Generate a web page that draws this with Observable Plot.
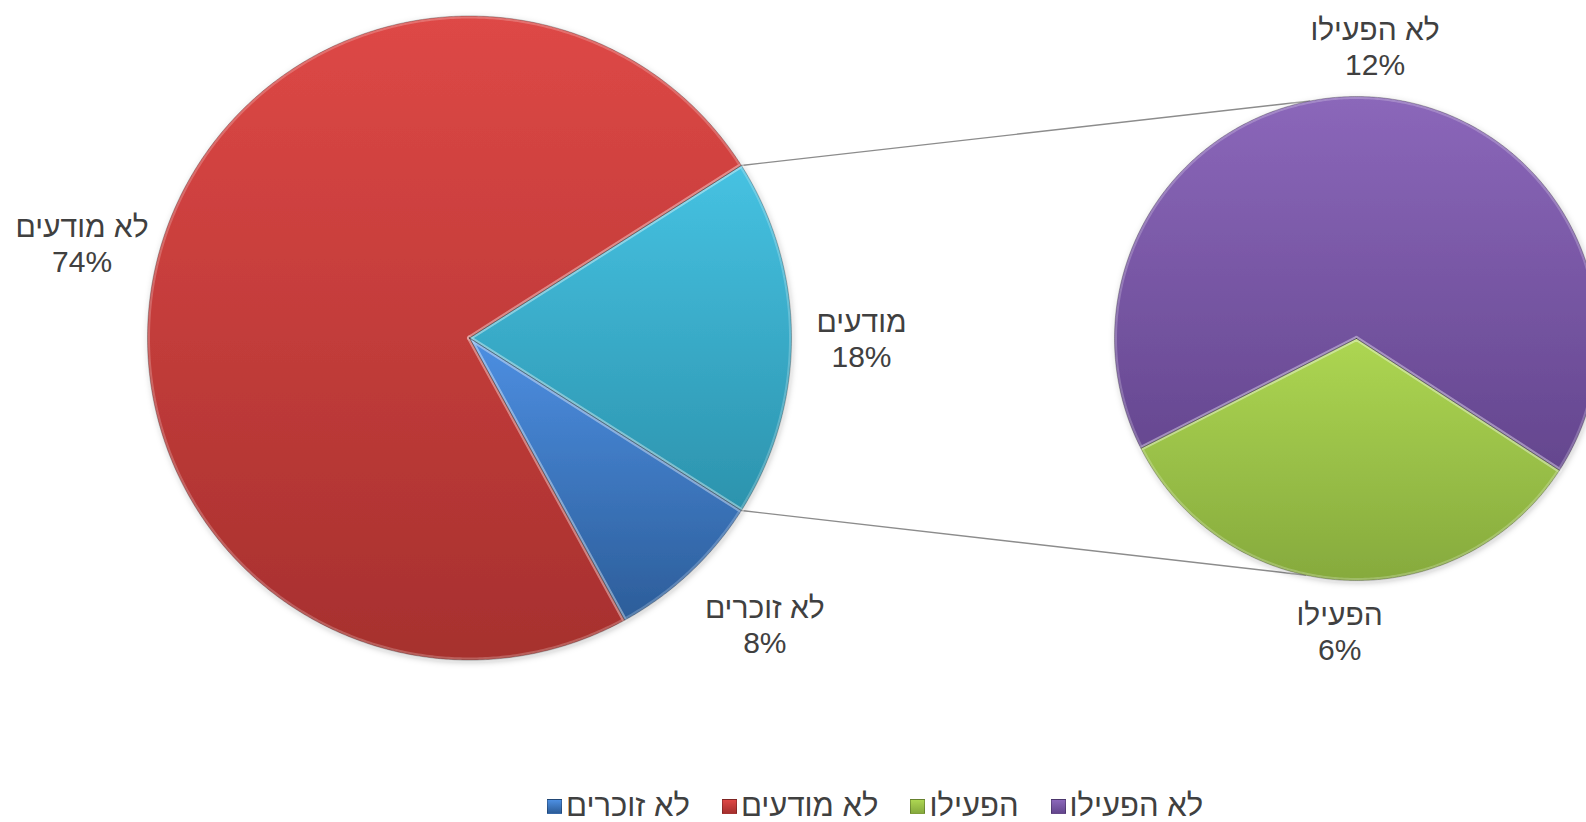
<!DOCTYPE html>
<html lang="he">
<head>
<meta charset="utf-8">
<script src="https://cdn.jsdelivr.net/npm/d3@7"></script>
<script src="https://cdn.jsdelivr.net/npm/@observablehq/plot@0.6"></script>
<style>
  html, body { margin: 0; padding: 0; background: #fff; overflow: hidden; }
  #chart svg { display: block; }
  #legend {
    display: flex; direction: ltr; align-items: center;
    height: 38px; margin-top: 17px;
    font-family: "Liberation Sans", Arial, sans-serif; font-size: 31px; color: #404040;
    padding-left: 547px; box-sizing: border-box; width: 1586px;
  }
  #legend .item { display: flex; align-items: center; direction: ltr; }
  #legend .item span { direction: rtl; unicode-bidi: isolate; }
  #legend .sw { width: 15px; height: 15px; margin-right: 4px; box-sizing: border-box; border: 1px solid rgba(0,0,0,0.25); }
  #legend .gap { width: 32px; }
</style>
</head>
<body>
<div id="chart"></div>
<div id="legend"></div>
<script>
// ---- data ----
const mainCategories = ["מודעים", "לא זוכרים", "לא מודעים"];
const mainValues = [18, 8, 74];
const subCategories = ["הפעילו", "לא הפעילו"];
const subValues = [6, 12];
const legendLabels = ["לא הפעילו", "הפעילו", "לא מודעים", "לא זוכרים"]; // right-to-left reading order

// ---- styles ----
const colorStops = {
  "מודעים": ["#46c2e2", "#2c93ad"],
  "לא זוכרים": ["#4d8fe2", "#2c5d99"],
  "לא מודעים": ["#de4846", "#a6302e"],
  "הפעילו": ["#add652", "#86aa3d"],
  "לא הפעילו": ["#8b67ba", "#64468e"]
};
const allCats = [...mainCategories, ...subCategories];
const gradId = c => "g" + allCats.indexOf(c);

const W = 1586, H = 770;
const FS = 30, LINE = 35;
const FONT = '"Liberation Sans", Arial, sans-serif';
const main = {cx: 469, cy: 337.5, r: 322};
const sub = {cx: 1356, cy: 338, r: 242, centerAngle: 183};
const linkAngles = {top: -11, bottom: 192};

const rad = d => d * Math.PI / 180;
const pt = (p, a, r = p.r) => ({x: p.cx + Math.sin(rad(a)) * r, y: p.cy - Math.cos(rad(a)) * r});

function slices(p, cats, vals, start) {
  const total = d3.sum(vals);
  let a = start;
  return cats.map((c, i) => {
    const span = vals[i] / total * 360;
    const s = {cat: c, value: vals[i], a0: a, a1: a + span, p};
    a += span;
    return s;
  });
}
const mainStart = 90 - mainValues[0] / d3.sum(mainValues) * 360 / 2;
const mainSlices = slices(main, mainCategories, mainValues, mainStart);
const subStart = sub.centerAngle - subValues[0] / d3.sum(subValues) * 360 / 2;
const subSlices = slices(sub, subCategories, subValues, subStart);
const allSlices = [...mainSlices, ...subSlices];

// polygon points for each slice
const polys = [];
for (const s of allSlices) {
  polys.push({cat: s.cat, ...pt(s.p, 0, 0)});
  const n = Math.max(2, Math.ceil((s.a1 - s.a0) / 0.5));
  for (let k = 0; k <= n; k++) polys.push({cat: s.cat, ...pt(s.p, s.a0 + (s.a1 - s.a0) * k / n)});
  polys.push({cat: s.cat, ...pt(s.p, 0, 0)});
}

// labels (outside end)
const ctx = document.createElement("canvas").getContext("2d");
ctx.font = `${FS}px ${FONT}`;
const labels = allSlices.map(s => {
  const pct = Math.round(s.value) + "%";
  const w = Math.max(ctx.measureText(s.cat).width, ctx.measureText(pct).width);
  const h = 2 * LINE;
  const mid = (s.a0 + s.a1) / 2;
  const ux = Math.sin(rad(mid)), uy = -Math.cos(rad(mid));
  const gap = 15 + 10 * Math.abs(ux);
  const d = s.p.r + gap;
  const fx = Math.sign(ux) * Math.min(1, 1.5 * Math.abs(ux));
  const fy = Math.sign(uy) * Math.min(1, Math.max(0, 1.8 * Math.abs(uy) - 0.2));
  let x = s.p.cx + ux * d + fx * w / 2, y = s.p.cy + uy * d + fy * h / 2 + 2;
  x = Math.min(Math.max(x, w / 2 + 15), W - w / 2 - 5);
  return {name: s.cat, pct, x, y};
});

// connector lines
const cyan = mainSlices[0];
const links = [
  {a: pt(main, cyan.a0), b: pt(sub, linkAngles.top)},
  {a: pt(main, cyan.a1), b: pt(sub, linkAngles.bottom)}
];

const chart = Plot.plot({
  width: W, height: H,
  marginTop: 0, marginRight: 0, marginBottom: 0, marginLeft: 0,
  x: {domain: [0, W], range: [0, W], axis: null},
  y: {domain: [0, H], range: [0, H], axis: null},
  color: {type: "ordinal", domain: allCats, range: allCats.map(c => `url(#${gradId(c)})`)},
  style: {background: "#fff", fontFamily: FONT},
  marks: [
    Plot.link(links, {x1: d => d.a.x, y1: d => d.a.y, x2: d => d.b.x, y2: d => d.b.y, stroke: "#8c8c8c", strokeWidth: 1.4}),
    Plot.line(polys, {x: "x", y: "y", z: "cat", fill: "cat", stroke: "none", curve: "linear", className: "slice-fill"}),
    Plot.line(polys, {x: "x", y: "y", z: "cat", stroke: "#ffffff", strokeOpacity: 0.22, strokeWidth: 5, strokeLinejoin: "round", curve: "linear"}),
    Plot.line(polys, {x: "x", y: "y", z: "cat", stroke: "rgba(0,0,0,0.3)", strokeWidth: 0.9, strokeLinejoin: "round", curve: "linear"}),
    Plot.text(labels, {x: "x", y: "y", text: "name", dy: -LINE / 2, fontSize: FS, fill: "#404040", fontFamily: FONT}),
    Plot.text(labels, {x: "x", y: "y", text: "pct", dy: LINE / 2, fontSize: FS, fill: "#404040", fontFamily: FONT})
  ]
});

// gradients & soft shadow
const svg = d3.select(chart.tagName.toLowerCase() === "svg" ? chart : chart.querySelector("svg"));
const defs = svg.insert("defs", ":first-child");
for (const c of allCats) {
  const g = defs.append("linearGradient").attr("id", gradId(c)).attr("x1", 0).attr("y1", 0).attr("x2", 0).attr("y2", 1);
  g.append("stop").attr("offset", "0%").attr("stop-color", colorStops[c][0]);
  g.append("stop").attr("offset", "100%").attr("stop-color", colorStops[c][1]);
}
const f = defs.append("filter").attr("id", "shadow").attr("x", "-10%").attr("y", "-10%").attr("width", "120%").attr("height", "120%");
f.append("feDropShadow").attr("dx", 1).attr("dy", 2).attr("stdDeviation", 3).attr("flood-color", "#000").attr("flood-opacity", 0.25);
svg.selectAll("g.slice-fill").attr("filter", "url(#shadow)");

document.getElementById("chart").appendChild(chart);

// legend: laid out left to right = reverse of RTL reading order
const legend = d3.select("#legend");
const visual = legendLabels.slice().reverse();
visual.forEach((lab, i) => {
  const item = legend.append("div").attr("class", "item");
  item.append("div").attr("class", "sw")
    .style("background", `linear-gradient(${colorStops[lab][0]}, ${colorStops[lab][1]})`);
  item.append("span").text(lab);
  if (i < visual.length - 1) legend.append("div").attr("class", "gap");
});
</script>
</body>
</html>
